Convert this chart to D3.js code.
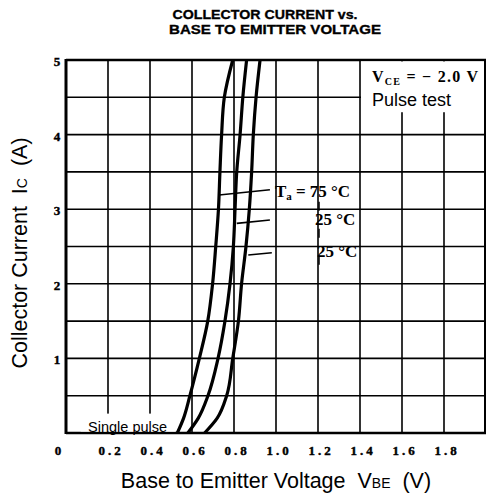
<!DOCTYPE html>
<html>
<head>
<meta charset="utf-8">
<script src="https://cdn.jsdelivr.net/npm/d3@7"></script>
<style>
  body { margin: 0; background: #fff; }
  svg { display: block; }
</style>
</head>
<body>
<div id="chart"></div>
<script>
// values
let xTicks = [0, 0.2, 0.4, 0.6, 0.8, 1.0, 1.2, 1.4, 1.6, 1.8];
let xTickLabels = ["0", "0.2", "0.4", "0.6", "0.8", "1.0", "1.2", "1.4", "1.6", "1.8"];
let yTicks = [1, 2, 3, 4, 5];
let yGrid = [0.5, 1, 1.5, 2, 2.5, 3, 3.5, 4, 4.5];

let current = [0, 0.2, 0.5, 1, 1.5, 2, 2.5, 3, 3.5, 4, 4.5, 5];
let vbe75 = [0.53, 0.56, 0.59, 0.635, 0.675, 0.698, 0.713, 0.726, 0.733, 0.741, 0.754, 0.794];
let vbe25 = [0.58, 0.63, 0.676, 0.724, 0.757, 0.781, 0.797, 0.805, 0.813, 0.829, 0.842, 0.86];
let vbeM25 = [0.66, 0.72, 0.765, 0.794, 0.821, 0.836, 0.857, 0.873, 0.884, 0.892, 0.905, 0.924];

function renderChart(){
  let width = 487, height = 498;
  let margin = {left: 66, right: 1, top: 60, bottom: 65};

  let svg = d3.select("#chart").append("svg")
    .attr("width", width)
    .attr("height", height);

  let x = d3.scaleLinear().domain([0, 2]).range([margin.left, width - margin.right]);
  let y = d3.scaleLinear().domain([0, 5]).range([height - margin.bottom, margin.top]);

  let serif = "'Liberation Serif', 'DejaVu Serif', serif";
  let sans = "'Liberation Sans', Arial, sans-serif";
  let nb = "\u00A0";

  // title
  let title = svg.append("g")
    .style("font-family", sans)
    .style("font-weight", "bold")
    .style("font-size", "13.5px")
    .attr("stroke", "#000").attr("stroke-width", 0.35)
    .attr("text-anchor", "middle");
  title.append("text").attr("x", 265).attr("y", 19)
    .attr("textLength", 185).attr("lengthAdjust", "spacingAndGlyphs")
    .text("COLLECTOR CURRENT vs.");
  title.append("text").attr("x", 275).attr("y", 34)
    .attr("textLength", 212).attr("lengthAdjust", "spacingAndGlyphs")
    .text("BASE TO EMITTER VOLTAGE");

  // grid
  let grid = svg.append("g").attr("stroke", "#000").attr("stroke-width", 1.6);
  grid.selectAll("line.v").data(xTicks.slice(1)).enter().append("line")
    .attr("class", "v")
    .attr("x1", d => x(d)).attr("x2", d => x(d))
    .attr("y1", y(0)).attr("y2", y(5));
  grid.selectAll("line.h").data(yGrid).enter().append("line")
    .attr("class", "h")
    .attr("x1", x(0)).attr("x2", x(2))
    .attr("y1", d => y(d)).attr("y2", d => y(d));

  // frame
  let frame = svg.append("g").attr("stroke", "#000").attr("fill", "none");
  frame.append("line").attr("x1", x(0)).attr("x2", x(2)).attr("y1", y(5)).attr("y2", y(5)).attr("stroke-width", 2.5);
  frame.append("line").attr("x1", x(0)).attr("x2", x(2)).attr("y1", y(0)).attr("y2", y(0)).attr("stroke-width", 2.5);
  frame.append("line").attr("x1", x(0)).attr("x2", x(0)).attr("y1", y(0) + 1).attr("y2", y(5) - 1).attr("stroke-width", 3);
  frame.append("line").attr("x1", x(2) - 1).attr("x2", x(2) - 1).attr("y1", y(0)).attr("y2", y(5)).attr("stroke-width", 2);

  // legend box upper right
  svg.append("rect")
    .attr("x", x(1.4) + 1).attr("y", y(5) + 1.5)
    .attr("width", x(2) - x(1.4) - 3).attr("height", y(4.32) - y(5))
    .attr("fill", "#fff");
  let vce = svg.append("text")
    .attr("x", x(1.4) + 12).attr("y", y(4.7))
    .style("font-family", serif).style("font-weight", "bold").style("font-size", "16px")
    .attr("textLength", 106).attr("lengthAdjust", "spacing");
  vce.append("tspan").text("V");
  vce.append("tspan").attr("dy", 3).style("font-size", "10px").text("CE");
  vce.append("tspan").attr("dy", -3).text(" = \u2212 2.0 V");
  svg.append("text")
    .attr("x", x(1.4) + 12).attr("y", y(4.39))
    .style("font-family", sans).style("font-size", "18px")
    .text("Pulse test");

  // "Single pulse" box
  svg.append("rect")
    .attr("x", x(0.07)).attr("y", y(0.26))
    .attr("width", x(0.52) - x(0.07)).attr("height", y(0) - y(0.26) - 1.5)
    .attr("fill", "#fff");
  svg.append("text")
    .attr("x", x(0.105)).attr("y", y(0.02))
    .style("font-family", sans).style("font-size", "14.5px")
    .text("Single pulse");

  // curves
  let line = d3.line()
    .x(d => x(d[0]))
    .y(d => y(d[1]))
    .curve(d3.curveMonotoneY);
  let series = [vbe75, vbe25, vbeM25];
  svg.append("g").selectAll("path").data(series).enter().append("path")
    .attr("d", v => line(v.map((vv, i) => [vv, current[i]])))
    .attr("fill", "none")
    .attr("stroke", "#000")
    .attr("stroke-width", 3.2)
    .attr("stroke-linejoin", "round");

  // temperature labels with leader lines
  let leaders = [
    [[0.729, 3.19], [0.971, 3.26]],
    [[0.813, 2.81], [0.971, 2.855]],
    [[0.868, 2.386], [0.98, 2.417]]
  ];
  svg.append("g").attr("stroke", "#000").attr("stroke-width", 1.6)
    .selectAll("line").data(leaders).enter().append("line")
    .attr("x1", d => x(d[0][0])).attr("y1", d => y(d[0][1]))
    .attr("x2", d => x(d[1][0])).attr("y2", d => y(d[1][1]));
  svg.append("line")
    .attr("x1", x(1.205)).attr("x2", x(1.205))
    .attr("y1", y(3.1)).attr("y2", y(2.2))
    .attr("stroke", "#000").attr("stroke-width", 1.4)
    .attr("stroke-dasharray", "9,18");

  let tLabel = svg.append("g")
    .style("font-family", serif).style("font-weight", "bold").style("font-size", "17px");
  let t1 = tLabel.append("text").attr("x", x(0.995)).attr("y", y(3.16))
    .attr("textLength", 75).attr("lengthAdjust", "spacing");
  t1.append("tspan").text("T");
  t1.append("tspan").attr("dy", 3).style("font-size", "11px").text("a");
  t1.append("tspan").attr("dy", -3).text(" = 75 \u00B0C");
  tLabel.selectAll("text.t").data([[1.186, 2.79], [1.195, 2.36]]).enter().append("text")
    .attr("class", "t")
    .attr("x", d => x(d[0])).attr("y", d => y(d[1]))
    .text("25 \u00B0C");

  // tick labels
  let tickFont = svg.append("g")
    .style("font-family", serif).style("font-weight", "bold").style("font-size", "13px")
    .attr("stroke", "#000").attr("stroke-width", 0.4);
  tickFont.selectAll("text.x").data(xTicks).enter().append("text")
    .attr("class", "x")
    .attr("x", (d, i) => i === 0 ? x(d) - 8 : x(d) + 3)
    .attr("y", y(0) + 22)
    .attr("text-anchor", "middle")
    .style("letter-spacing", (d, i) => i === 0 ? "0px" : "3px")
    .text((d, i) => xTickLabels[i]);
  tickFont.selectAll("text.y").data(yTicks).enter().append("text")
    .attr("class", "y")
    .attr("x", x(0) - 9)
    .attr("y", d => y(d) + 6)
    .attr("text-anchor", "middle")
    .text(d => d);

  // axis titles
  let xt = svg.append("text")
    .attr("x", 276).attr("y", 488)
    .attr("text-anchor", "middle")
    .style("font-family", sans).style("font-size", "21.5px");
  xt.append("tspan").text("Base to Emitter Voltage" + nb + nb + "V");
  xt.append("tspan").style("font-size", "14px").text("BE");
  xt.append("tspan").text(nb + nb + "(V)");

  let yt = svg.append("text")
    .attr("transform", "translate(27," + 253 + ") rotate(-90)")
    .attr("text-anchor", "middle")
    .style("font-family", sans).style("font-size", "21.5px");
  yt.append("tspan").text("Collector Current" + nb + nb + "I");
  yt.append("tspan").style("font-size", "14px").text("C");
  yt.append("tspan").text(nb + nb + "(A)");
}

renderChart();
</script>
</body>
</html>
